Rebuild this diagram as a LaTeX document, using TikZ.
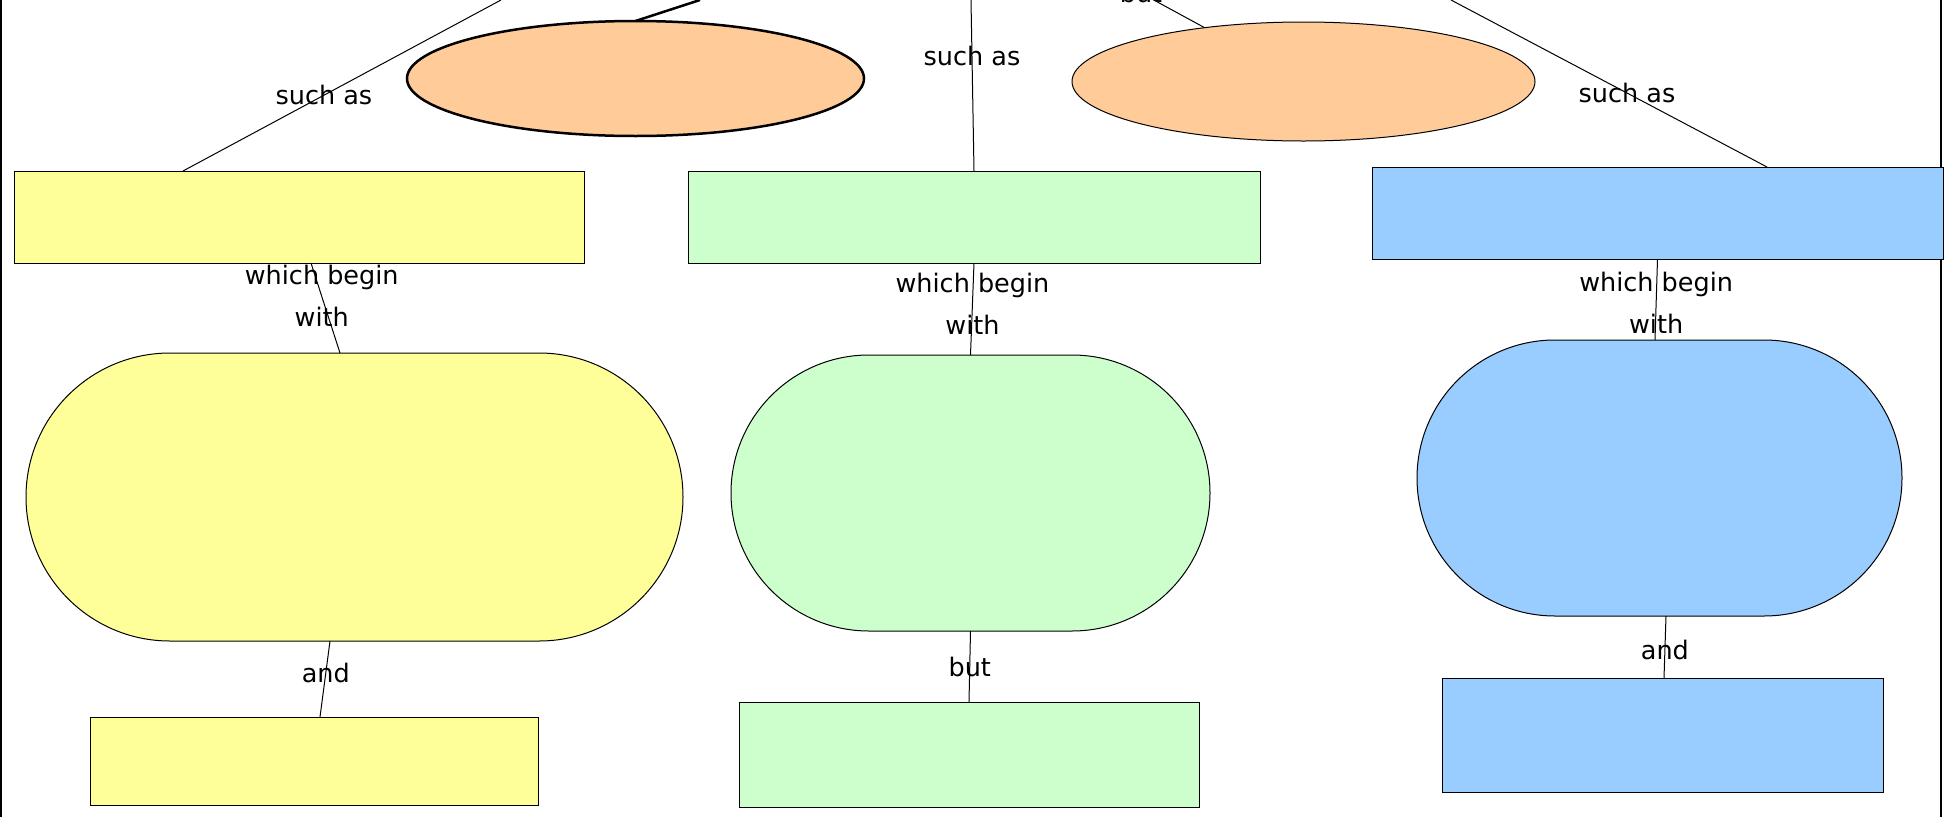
\documentclass[tikz,border=0pt]{standalone}
\usepackage{fontspec}
\setmainfont{DejaVu Sans}
\usetikzlibrary{shapes.geometric,shapes.misc,calc}
\definecolor{peach}{HTML}{FFCC99}
\definecolor{lemon}{HTML}{FFFF99}
\definecolor{mint}{HTML}{CCFFCC}
\definecolor{sky}{HTML}{99CCFF}
\tikzset{
	idea/.style={ellipse, draw, fill=peach, inner sep=0pt, outer sep=0pt, line width=1pt},
	box/.style={rectangle, draw, inner sep=0pt, outer sep=0pt, line width=1pt},
	pill/.style={rounded rectangle, draw, inner sep=0pt, outer sep=0pt, line width=1pt},
	link/.style={draw, line width=1pt}
}

\begin{document}
\begin{tikzpicture}[x=1pt, y=-1pt, font=\fontsize{25.5}{42}\selectfont]
			\useasboundingbox (0,0) rectangle (1944,817);
			\clip (0,0) rectangle (1944,817);
			\draw[line width=2pt] (1,0) -- (1,817);
			\draw[line width=2pt] (1941,0) -- (1941,817);

			\node[idea, line width=2.5pt, minimum width=457pt, minimum height=115pt] (e1) at (635.5,78.5) {};
			\node[idea, minimum width=463pt, minimum height=119pt] (e2) at (1303.5,81.5) {};

			\node[box, fill=lemon, minimum width=570pt, minimum height=92pt] (ry) at (299,217) {};
			\node[box, fill=mint, minimum width=572pt, minimum height=92pt] (rg) at (974,217) {};
			\node[box, fill=sky, minimum width=571pt, minimum height=92pt] (rb) at (1657.5,213) {};

			\node[pill, fill=lemon, minimum width=657pt, minimum height=288pt] (sy) at (354.5,497) {};
			\node[pill, fill=mint, minimum width=479pt, minimum height=276pt] (sg) at (970.5,493) {};
			\node[pill, fill=sky, minimum width=485pt, minimum height=276pt] (sb) at (1659.5,478) {};

			\node[box, fill=lemon, minimum width=448pt, minimum height=88pt] (by) at (314,761) {};
			\node[box, fill=mint, minimum width=460pt, minimum height=105pt] (bg) at (969,754.5) {};
			\node[box, fill=sky, minimum width=441pt, minimum height=114pt] (bb) at (1662.5,735) {};

			\coordinate (topA) at (501,0);
			\coordinate (topB) at (700,0);
			\coordinate (topC) at (971,0);
			\coordinate (topD) at (1117,-20);
			\coordinate (topE) at (1451,0);
			\coordinate (ryA) at ($(ry.north west)+(169,0)$);
			\coordinate (ryB) at ($(ry.south west)+(297,0)$);
			\coordinate (rbA) at ($(rb.north west)+(395,0)$);
			\coordinate (syA) at ($(sy.north)+(-14.5,0)$);
			\coordinate (syB) at ($(sy.south)+(-24.5,0)$);
			\coordinate (byA) at ($(by.north)+(6,0)$);
			\coordinate (sbA) at ($(sb.north)+(-4.5,0)$);
			\coordinate (sbB) at ($(sb.south)+(6.5,0)$);
			\coordinate (bbA) at ($(bb.north)+(1.5,0)$);

			\draw[line width=2.5pt] (topB) -- (e1.north);
			\path[link]
			(topA) edge node[pos=0.557] {such as} (ryA)
			(topC) edge node[pos=0.33] {such as} (rg.north)
			(topD) edge node[pos=0.274] {but} (e2)
			(topE) edge node[pos=0.557] {such as} (rbA)
			(ryB) edge node[pos=0.37, align=center] {which begin\\with} (syA)
			(rg.south) edge node[pos=0.44, align=center] {which begin\\with} (sg.north)
			(rb.south) edge node[pos=0.54, align=center] {which begin\\with} (sbA)
			(syB) edge node[pos=0.42] {and} (byA)
			(sg.south) edge node[pos=0.5] {but} (bg.north)
			(sbB) edge node[pos=0.55] {and} (bbA);
		\end{tikzpicture}
\end{document}
